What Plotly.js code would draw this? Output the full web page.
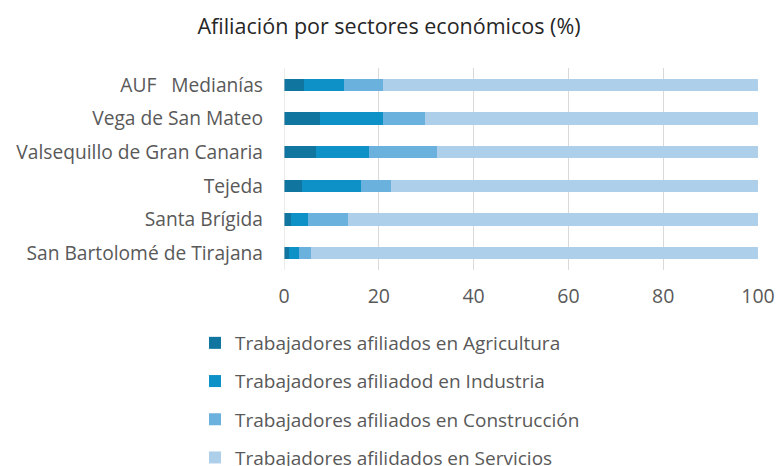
<!DOCTYPE html>
<html>
<head>
<meta charset="utf-8">
<script src="https://cdn.plot.ly/plotly-3.0.1.min.js"></script>
<style>html,body{margin:0;padding:0;background:#fff;}#chart{width:778px;height:466px;}</style>
</head>
<body>
<div id="chart"></div>
<script>
const categories = ["AUF\u00a0\u00a0\u00a0Medianías", "Vega de San Mateo", "Valsequillo de Gran Canaria", "Tejeda", "Santa Brígida", "San Bartolomé de Tirajana"];
const agricultura = [4.3, 7.5, 6.8, 3.9, 1.4, 1.1];
const industria = [8.4, 13.3, 11.2, 12.3, 3.7, 2.1];
const construccion = [8.1, 9.0, 14.3, 6.3, 8.5, 2.5];
const servicios = [79.2, 70.2, 67.7, 77.5, 86.4, 94.3];
const seriesNames = ["Trabajadores afiliados en Agricultura", "Trabajadores afiliadod en Industria", "Trabajadores afiliados en Construcción", "Trabajadores afilidados en Servicios"];
const colors = ["#10759f", "#0e91c6", "#6ab1dd", "#aecfea"];
const xTicks = [0, 20, 40, 60, 80, 100];

const allSeries = [agricultura, industria, construccion, servicios];
const traces = allSeries.map((vals, i) => ({
  type: "bar",
  orientation: "h",
  y: categories,
  x: vals,
  name: seriesNames[i],
  legendgroup: "g" + i,
  marker: {color: colors[i], line: {width: 0}},
  hoverinfo: "x+y+name"
}));

const layout = {
  width: 778, height: 466,
  margin: {l: 284, r: 20, t: 68, b: 196, autoexpand: false},
  paper_bgcolor: "#fff", plot_bgcolor: "#fff",
  font: {family: "Open Sans, sans-serif", color: "#595959"},
  title: {text: "Afiliación por sectores económicos (%)", x: 0.5, xref: "container", xanchor: "center", y: 1 - 26/466, yref: "container", yanchor: "middle",
          font: {size: 21.5, color: "#262626", family: "Open Sans, sans-serif"}},
  barmode: "stack",
  bargap: 0.63,
  xaxis: {range: [0, 100], tickvals: xTicks, ticktext: xTicks.map(String), showgrid: true, gridcolor: "#d9d9d9", gridwidth: 1,
          zeroline: false, showline: false, ticks: "", ticklabelstandoff: 12, tickfont: {size: 19.5, color: "#595959"}, fixedrange: true, automargin: false},
  yaxis: {autorange: "reversed", showgrid: false, zeroline: false, showline: false, ticks: "", ticklabelstandoff: 20,
          tickfont: {size: 19.2, color: "#595959"}, automargin: false},
  showlegend: true,
  legend: {orientation: "v", xref: "container", yref: "container", x: 195/778, xanchor: "left", y: 1 - 324/466, yanchor: "top", traceorder: "grouped",
           tracegroupgap: 10.5, font: {size: 19, color: "#595959"}, itemwidth: 30},
  shapes: [{type: "line", xref: "x", yref: "paper", x0: 0, x1: 0, y0: 0, y1: 1, line: {color: "#d9d9d9", width: 1}}]
};

Plotly.newPlot("chart", traces, layout, {displayModeBar: false, staticPlot: true});
</script>
</body>
</html>
